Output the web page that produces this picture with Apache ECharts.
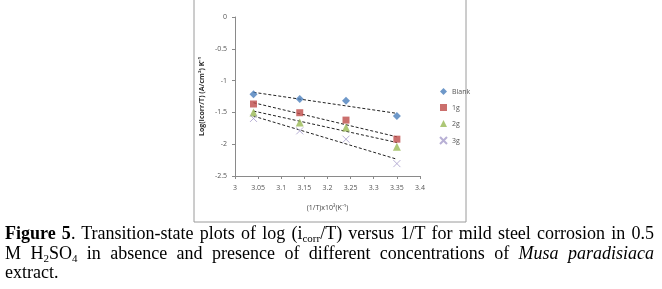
<!DOCTYPE html>
<html>
<head>
<meta charset="utf-8">
<script src="https://cdn.jsdelivr.net/npm/echarts@6/dist/echarts.min.js"></script>
<style>
  html, body { margin: 0; padding: 0; background: #fff; }
  #wrap { position: relative; width: 662px; height: 289px; overflow: hidden; }
  #container { position: absolute; left: 0; top: 0; width: 662px; height: 289px; }
  #caption {
    position: absolute; left: 5px; top: 224px; width: 649px;
    font-family: "Liberation Serif", "DejaVu Serif", serif;
    font-size: 18px; line-height: 19.5px; color: #000;
  }
  #caption .jl { text-align: justify; text-align-last: justify; white-space: nowrap; }
  #caption sub { font-size: 11px; line-height: 0; vertical-align: -3px; }
</style>
</head>
<body>
<div id="wrap">
  <div id="container"></div>
  <div id="caption">
    <div class="jl"><b>Figure 5</b>. Transition-state plots of log (i<sub>corr</sub>/T) versus 1/T for mild steel corrosion in 0.5</div>
    <div class="jl">M H<sub>2</sub>SO<sub>4</sub> in absence and presence of different concentrations of <i>Musa paradisiaca</i></div>
    <div>extract.</div>
  </div>
</div>
<script>
// 1/T x10^3 值
var invT = [3.04, 3.14, 3.24, 3.35];
// 各浓度 log(icorr/T)
var blankVals = [-1.215, -1.290, -1.316, -1.558];
var g1Vals = [-1.368, -1.505, -1.621, -1.921];
var g2Vals = [-1.500, -1.658, -1.737, -2.040];
var g3Vals = [-1.595, -1.790, -1.921, -2.305];
// 趋势线两端 (x=3.04 和 x=3.35)
var trendX = [3.04, 3.35];
var blankTrend = [-1.184, -1.515];
var g1Trend = [-1.348, -1.884];
var g2Trend = [-1.479, -1.973];
var g3Trend = [-1.558, -2.236];
var seriesNames = ['Blank', '1g', '2g', '3g'];
var yTicks = [0, -0.5, -1, -1.5, -2, -2.5];

function pairs(xs, ys) {
    return xs.map(function (x, i) { return [x, ys[i]]; });
}

var myChart = echarts.init(document.getElementById('container'));

var trend = function (ys) {
    return {
        type: 'line',
        data: pairs(trendX, ys),
        symbol: 'none',
        silent: true,
        z: 1,
        lineStyle: { color: '#222', width: 1, type: [3, 2] }
    };
};

var option = {
    animation: false,
    backgroundColor: '#fff',
    //图框
    graphic: [{
        type: 'rect',
        shape: { x: 194, y: -5, width: 272, height: 227 },
        style: { fill: 'none', stroke: '#9a9a9a', lineWidth: 1 },
        z: -1
    }],
    grid: { left: 235, right: 242, top: 17, bottom: 113 },
    legend: {
        data: seriesNames,
        orient: 'vertical',
        left: 434,
        top: 83,
        itemWidth: 7,
        itemHeight: 7,
        itemGap: 9,
        textStyle: { fontSize: 7, color: '#555', fontFamily: 'Open Sans' }
    },
    xAxis: {
        type: 'value',
        min: 3,
        max: 3.4,
        interval: 0.05,
        name: '(1/T)x10³(K⁻¹)',
        nameLocation: 'middle',
        nameGap: 28,
        nameTextStyle: { fontSize: 7, color: '#444', fontFamily: 'Open Sans' },
        axisLine: { onZero: false, lineStyle: { color: '#8a8a8a' } },
        axisTick: { length: 3, lineStyle: { color: '#8a8a8a' } },
        splitLine: { show: false },
        axisLabel: {
            fontSize: 7, color: '#555', margin: 8, fontFamily: 'Open Sans',
            formatter: function (v) { return String(+v.toFixed(2)); }
        }
    },
    yAxis: {
        type: 'value',
        min: -2.5,
        max: 0,
        interval: 0.5,
        name: 'Log(Icorr/T) (A/cm²) K⁻¹',
        nameLocation: 'middle',
        nameGap: 30,
        nameTextStyle: { fontSize: 7, color: '#333', fontWeight: 'bold', fontFamily: 'Open Sans' },
        axisLine: { show: true, onZero: false, lineStyle: { color: '#8a8a8a' } },
        axisTick: { show: true, length: 3, lineStyle: { color: '#8a8a8a' } },
        splitLine: { show: false },
        axisLabel: {
            fontSize: 7, color: '#555', margin: 8, fontFamily: 'Open Sans',
            formatter: function (v) {
                var t = yTicks.filter(function (k) { return Math.abs(k - v) < 1e-6; });
                return t.length ? String(t[0]) : '';
            }
        }
    },
    series: [
        trend(blankTrend), trend(g1Trend), trend(g2Trend), trend(g3Trend),
        {
            name: 'Blank', type: 'scatter', symbol: 'diamond', symbolSize: 8, z: 3,
            itemStyle: { color: '#4a7ebb' },
            data: pairs(invT, blankVals)
        },
        {
            name: '1g', type: 'scatter', symbol: 'rect', symbolSize: 7, z: 3,
            itemStyle: { color: '#be4b48' },
            data: pairs(invT, g1Vals)
        },
        {
            name: '2g', type: 'scatter', symbol: 'triangle', symbolSize: 8, z: 3,
            itemStyle: { color: '#98b954' },
            data: pairs(invT, g2Vals)
        },
        {
            name: '3g', type: 'scatter', symbol: 'path://M0,0L10,10M10,0L0,10', symbolSize: 7, z: 3,
            itemStyle: { color: 'rgba(0,0,0,0)', borderColor: '#a69ccb', borderWidth: 1 },
            data: pairs(invT, g3Vals)
        }
    ]
};

myChart.setOption(option, true);
</script>
</body>
</html>
